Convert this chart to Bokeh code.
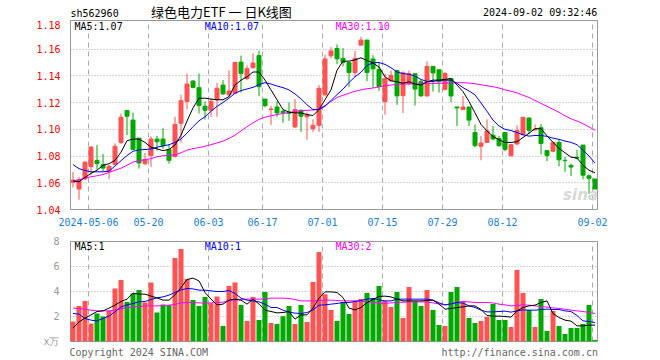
import numpy as np
from bokeh.plotting import figure
from bokeh.models import Range1d, FixedTicker, Label, ColumnDataSource
from bokeh.layouts import column
from bokeh.embed import file_html
from bokeh.resources import INLINE

# ---------------- data ----------------
tick_idx = [3, 13, 23, 32, 42, 52, 62, 72, 87]
tick_labels = ["2024-05-06", "05-20", "06-03", "06-17", "07-01", "07-15", "07-29", "08-12", "09-02"]

open_ = [1.0603, 1.0553, 1.0630, 1.0720, 1.0767, 1.0735, 1.0687, 1.0738, 1.0902, 1.1140,
         1.1069, 1.0934, 1.0743, 1.0804, 1.0927, 1.0927, 1.0849, 1.0797, 1.1045, 1.1209,
         1.1361, 1.1312, 1.1172, 1.1143, 1.1221, 1.1331, 1.1258, 1.1270, 1.1503, 1.1380,
         1.1461, 1.1552, 1.1226, 1.1148, 1.1167, 1.1135, 1.1130, 1.1018, 1.1143, 1.1093,
         1.1005, 1.1030, 1.1258, 1.1550, 1.1605, 1.1531, 1.1500, 1.1425, 1.1630, 1.1668,
         1.1526, 1.1448, 1.1208, 1.1362, 1.1440, 1.1252, 1.1342, 1.1416, 1.1356, 1.1250,
         1.1471, 1.1446, 1.1299, 1.1380, 1.1167, 1.1148, 1.1167, 1.0976, 1.0873, 1.0902,
         1.0956, 1.0932, 1.0976, 1.0802, 1.0890, 1.0960, 1.1085, 1.0995, 1.1012, 1.0841,
         1.0836, 1.0902, 1.0768, 1.0730, 1.0790, 1.0882, 1.0652, 1.0628]
high = [1.0680, 1.0645, 1.0757, 1.0873, 1.0883, 1.0817, 1.0736, 1.0895, 1.1118, 1.1140,
        1.1125, 1.0934, 1.0824, 1.0947, 1.0951, 1.1008, 1.0890, 1.1094, 1.1258, 1.1417,
        1.1368, 1.1417, 1.1209, 1.1233, 1.1345, 1.1368, 1.1442, 1.1500, 1.1552, 1.1478,
        1.1570, 1.1589, 1.1226, 1.1177, 1.1209, 1.1148, 1.1201, 1.1226, 1.1143, 1.1125,
        1.1074, 1.1331, 1.1559, 1.1615, 1.1636, 1.1608, 1.1500, 1.1587, 1.1693, 1.1668,
        1.1555, 1.1502, 1.1416, 1.1440, 1.1445, 1.1435, 1.1440, 1.1416, 1.1370, 1.1508,
        1.1471, 1.1446, 1.1430, 1.1385, 1.1167, 1.1250, 1.1167, 1.1037, 1.0951, 1.1074,
        1.1025, 1.0951, 1.0976, 1.0890, 1.1030, 1.1092, 1.1085, 1.1037, 1.1041, 1.0841,
        1.0902, 1.0926, 1.0792, 1.0743, 1.0846, 1.0882, 1.0662, 1.0628]
low = [1.0564, 1.0474, 1.0620, 1.0655, 1.0700, 1.0682, 1.0628, 1.0731, 1.0890, 1.0956,
       1.0849, 1.0706, 1.0731, 1.0719, 1.0841, 1.0853, 1.0743, 1.0787, 1.0902, 1.1148,
       1.1307, 1.1118, 1.1074, 1.1094, 1.1094, 1.1258, 1.1245, 1.1265, 1.1275, 1.1368,
       1.1454, 1.1250, 1.1165, 1.1032, 1.1094, 1.1050, 1.1064, 1.1010, 1.0981, 1.0922,
       1.0981, 1.0981, 1.1245, 1.1530, 1.1489, 1.1471, 1.1318, 1.1391, 1.1630, 1.1360,
       1.1311, 1.1287, 1.1110, 1.1360, 1.1183, 1.1122, 1.1330, 1.1178, 1.1245, 1.1245,
       1.1282, 1.1275, 1.1290, 1.1203, 1.1025, 1.1145, 1.1025, 1.0866, 1.0768, 1.0897,
       1.0922, 1.0870, 1.0836, 1.0800, 1.0885, 1.0955, 1.0963, 1.0990, 1.0811, 1.0762,
       1.0830, 1.0723, 1.0682, 1.0650, 1.0775, 1.0625, 1.0517, 1.0550]
close = [1.0620, 1.0623, 1.0755, 1.0867, 1.0743, 1.0710, 1.0724, 1.0873, 1.1091, 1.1098,
         1.0849, 1.0748, 1.0775, 1.0927, 1.0907, 1.0878, 1.0768, 1.1037, 1.1214, 1.1339,
         1.1314, 1.1179, 1.1143, 1.1209, 1.1307, 1.1265, 1.1287, 1.1500, 1.1417, 1.1454,
         1.1496, 1.1319, 1.1177, 1.1152, 1.1123, 1.1125, 1.1120, 1.1148, 1.1098, 1.1110,
         1.1030, 1.1307, 1.1527, 1.1587, 1.1528, 1.1500, 1.1425, 1.1531, 1.1668, 1.1425,
         1.1453, 1.1320, 1.1379, 1.1404, 1.1250, 1.1423, 1.1416, 1.1301, 1.1250, 1.1471,
         1.1422, 1.1356, 1.1417, 1.1250, 1.1160, 1.1167, 1.1069, 1.0878, 1.0898, 1.0988,
         1.0927, 1.0878, 1.0849, 1.0885, 1.0990, 1.1090, 1.0993, 1.1000, 1.0894, 1.0804,
         1.0902, 1.0772, 1.0766, 1.0718, 1.0785, 1.0657, 1.0633, 1.0554]
volume = [1.60, 2.85, 3.25, 1.44, 2.24, 2.00, 2.45, 4.24, 4.93, 3.17,
          3.84, 4.13, 3.12, 4.72, 2.32, 2.96, 2.93, 6.69, 7.41, 5.01,
          3.33, 2.85, 3.57, 3.07, 3.60, 1.25, 4.45, 4.72, 2.93, 1.65,
          3.57, 1.73, 3.97, 1.49, 1.41, 2.03, 2.85, 1.41, 2.93, 1.57,
          4.77, 7.17, 3.79, 2.53, 1.65, 3.17, 2.21, 3.25, 3.41, 3.89,
          3.44, 4.45, 3.25, 2.77, 3.97, 1.89, 4.37, 3.20, 2.85, 4.13,
          2.53, 1.33, 1.25, 3.97, 4.37, 3.17, 1.89, 1.49, 1.65, 1.97,
          3.01, 1.73, 1.73, 1.17, 5.73, 3.89, 2.53, 1.17, 3.41, 0.85,
          2.45, 1.25, 0.61, 1.09, 1.09, 1.41, 2.93, 0.13]

ma5 = [1.0613, 1.0608, 1.0640, 1.0670, 1.0694, 1.0731, 1.0743, 1.0768, 1.0829, 1.0915,
       1.0927, 1.0927, 1.0902, 1.0866, 1.0853, 1.0841, 1.0849, 1.0883, 1.0956, 1.1062,
       1.1160, 1.1233, 1.1233, 1.1226, 1.1221, 1.1221, 1.1245, 1.1331, 1.1368, 1.1393,
       1.1429, 1.1429, 1.1368, 1.1295, 1.1221, 1.1148, 1.1128, 1.1123, 1.1123, 1.1111,
       1.1103, 1.1148, 1.1221, 1.1295, 1.1442, 1.1510, 1.1510, 1.1520, 1.1535, 1.1515,
       1.1496, 1.1466, 1.1393, 1.1363, 1.1356, 1.1344, 1.1356, 1.1339, 1.1331, 1.1356,
       1.1368, 1.1368, 1.1373, 1.1380, 1.1331, 1.1282, 1.1209, 1.1123, 1.1037, 1.0988,
       1.0947, 1.0922, 1.0902, 1.0902, 1.0907, 1.0939, 1.0971, 1.1005, 1.1005, 1.0951,
       1.0902, 1.0858, 1.0824, 1.0792, 1.0785, 1.0731, 1.0694, 1.0675]
ma10 = [1.0736, 1.0706, 1.0692, 1.0682, 1.0682, 1.0682, 1.0687, 1.0726, 1.0765, 1.0804,
        1.0836, 1.0846, 1.0849, 1.0853, 1.0866, 1.0875, 1.0885, 1.0902, 1.0927, 1.0971,
        1.1020, 1.1064, 1.1094, 1.1135, 1.1172, 1.1201, 1.1233, 1.1270, 1.1290, 1.1302,
        1.1314, 1.1334, 1.1349, 1.1339, 1.1324, 1.1312, 1.1295, 1.1265, 1.1228, 1.1184,
        1.1148, 1.1148, 1.1172, 1.1216, 1.1260, 1.1300, 1.1351, 1.1393, 1.1427, 1.1478,
        1.1498, 1.1500, 1.1486, 1.1461, 1.1429, 1.1417, 1.1412, 1.1398, 1.1373, 1.1358,
        1.1358, 1.1366, 1.1368, 1.1368, 1.1344, 1.1312, 1.1287, 1.1258, 1.1197, 1.1135,
        1.1069, 1.1025, 1.1000, 1.0991, 1.0976, 1.0959, 1.0949, 1.0954, 1.0954, 1.0947,
        1.0934, 1.0925, 1.0912, 1.0902, 1.0885, 1.0844, 1.0800, 1.0748]
ma30 = [1.0613, 1.0623, 1.0635, 1.0645, 1.0652, 1.0662, 1.0677, 1.0694, 1.0709, 1.0731,
        1.0755, 1.0765, 1.0773, 1.0780, 1.0795, 1.0802, 1.0804, 1.0809, 1.0824, 1.0844,
        1.0856, 1.0863, 1.0873, 1.0885, 1.0898, 1.0912, 1.0932, 1.0956, 1.0988, 1.1020,
        1.1049, 1.1074, 1.1091, 1.1101, 1.1111, 1.1118, 1.1125, 1.1133, 1.1140, 1.1142,
        1.1145, 1.1152, 1.1177, 1.1209, 1.1238, 1.1255, 1.1270, 1.1285, 1.1295, 1.1304,
        1.1309, 1.1317, 1.1326, 1.1331, 1.1336, 1.1339, 1.1339, 1.1339, 1.1341, 1.1344,
        1.1344, 1.1344, 1.1346, 1.1346, 1.1349, 1.1349, 1.1346, 1.1341, 1.1334, 1.1326,
        1.1319, 1.1309, 1.1295, 1.1285, 1.1273, 1.1255, 1.1238, 1.1216, 1.1194, 1.1172,
        1.1150, 1.1128, 1.1101, 1.1079, 1.1062, 1.1042, 1.1018, 1.0993]

vma5 = [1.07, 1.57, 1.87, 2.13, 2.40, 2.45, 2.67, 2.91, 3.20, 3.39,
        3.87, 3.79, 3.79, 3.63, 3.49, 3.31, 3.31, 3.73, 4.32, 4.96,
        5.07, 4.85, 3.92, 3.39, 2.93, 2.99, 3.31, 3.39, 3.31, 2.99,
        3.39, 2.99, 2.51, 2.40, 2.29, 2.32, 2.40, 1.79, 2.13, 2.13,
        2.67, 3.47, 3.97, 3.97, 3.92, 3.52, 2.67, 2.53, 2.72, 3.12,
        3.36, 3.60, 3.63, 3.57, 3.39, 3.25, 3.25, 3.25, 3.25, 3.28,
        3.31, 2.99, 2.59, 2.64, 2.72, 2.77, 2.85, 2.85, 2.56, 2.08,
        2.03, 2.03, 2.00, 1.95, 2.45, 2.72, 2.85, 2.91, 3.12, 3.25,
        2.24, 1.92, 1.71, 1.63, 1.25, 1.25, 1.31, 1.31]
vma10 = [2.24, 2.19, 1.84, 1.71, 1.65, 1.84, 2.03, 2.37, 2.77, 2.93,
         3.04, 3.17, 3.20, 3.36, 3.49, 3.57, 3.71, 3.92, 4.13, 4.24,
         4.21, 4.11, 4.11, 4.05, 4.00, 4.00, 4.08, 3.84, 3.47, 3.31,
         3.25, 3.17, 2.99, 2.72, 2.72, 2.51, 2.35, 2.27, 2.24, 2.32,
         2.53, 2.91, 2.93, 2.99, 3.04, 3.12, 3.12, 3.20, 3.28, 3.39,
         3.44, 3.33, 3.25, 3.25, 3.39, 3.39, 3.39, 3.39, 3.39, 3.39,
         3.31, 3.09, 2.93, 3.01, 3.12, 3.07, 2.85, 2.72, 2.51, 2.37,
         2.37, 2.40, 2.43, 2.35, 2.45, 2.53, 2.51, 2.51, 2.56, 2.59,
         2.56, 2.56, 2.45, 2.40, 2.08, 1.65, 1.60, 1.52]
vma30 = [2.67, 2.64, 2.59, 2.51, 2.45, 2.45, 2.45, 2.51, 2.61, 2.72,
         2.77, 2.80, 2.85, 2.85, 2.85, 2.88, 2.91, 2.96, 3.09, 3.12,
         3.12, 3.09, 3.07, 3.09, 3.12, 3.15, 3.25, 3.31, 3.36, 3.39,
         3.39, 3.39, 3.41, 3.47, 3.47, 3.47, 3.44, 3.36, 3.25, 3.25,
         3.25, 3.28, 3.31, 3.31, 3.28, 3.25, 3.25, 3.25, 3.23, 3.17,
         3.12, 3.07, 3.04, 3.09, 3.12, 3.15, 3.17, 3.17, 3.17, 3.17,
         3.09, 3.01, 2.93, 3.01, 3.15, 3.20, 3.17, 3.12, 3.12, 3.12,
         3.09, 2.99, 2.93, 2.85, 2.88, 2.93, 2.91, 2.85, 2.80, 2.75,
         2.69, 2.64, 2.59, 2.51, 2.45, 2.40, 2.32, 2.24]

# ---------------- styling ----------------
RED = "#ff5252"
GREEN = "#00a800"
GRID = "#aaaaaa"
MONO = "DejaVu Sans Mono"
W = 660
LEFT, RIGHT = 70, 63
FRAME_W = W - LEFT - RIGHT      # 527
PX = 6.0                        # pixels per trading day
XMAX = FRAME_W / PX
OFF = 2.5 / PX                  # candle centre inside its slot

n = len(close)
xs = [i + OFF for i in range(n)]
colors = [RED if c >= o else GREEN for o, c in zip(open_, close)]

src = ColumnDataSource(dict(
    x=xs, top=[max(o, c) for o, c in zip(open_, close)],
    bottom=[min(o, c) for o, c in zip(open_, close)],
    high=high, low=low, color=colors, vol=volume,
    ma5=ma5, ma10=ma10, ma30=ma30, vma5=vma5, vma10=vma10, vma30=vma30))

xr = Range1d(0, XMAX)


def sx(px):
    return (px - LEFT) / PX


def lab(p, x, y, text, color="#000000", size="10px", font=MONO, align="left", **kw):
    p.add_layout(Label(x=x, y=y, text=text, text_color=color, text_font_size=size,
                       text_font=font, text_align=align, text_baseline="middle", **kw))


# ---------------- header strip (frame aligned with the chart frame) ----------------
HDR = 20
hdr = figure(width=W, height=HDR, output_backend="svg", toolbar_location=None,
             x_range=xr, y_range=Range1d(HDR, 0),
             x_axis_type=None, y_axis_type=None,
             min_border_left=LEFT, min_border_right=RIGHT, min_border_top=0, min_border_bottom=0)
hdr.outline_line_color = None
hdr.grid.visible = False
lab(hdr, sx(70), 13.2, "sh562960")
lab(hdr, sx(150.5), 10.5, "绿色电力ETF 一 日K线图", size="13px", font="Noto Sans CJK SC")
lab(hdr, sx(596.8), 12.4, "2024-09-02 09:32:46", align="right")

# ---------------- price panel ----------------
FT1 = 20 - HDR
PY0, PY1 = 1.04, 1.04 + 192 / 27.15 * 0.02
p1 = figure(width=W, height=FT1 + 192 + 16, output_backend="svg", toolbar_location=None,
            x_range=xr, y_range=Range1d(PY0, PY1),
            min_border_left=LEFT, min_border_right=RIGHT, min_border_top=FT1,
            min_border_bottom=16)
p1.outline_line_color = "#999999"
p1.outline_line_width = 1

p1.segment(x0="x", x1="x", y0="low", y1="high", color="color", line_width=1, source=src)
p1.vbar(x="x", width=4 / PX, top="top", bottom="bottom", fill_color="color",
        line_color="color", line_width=1, source=src)
p1.line("x", "ma30", color="#ff00ff", line_width=1, source=src)
p1.line("x", "ma10", color="#0000ff", line_width=1, source=src)
p1.line("x", "ma5", color="#000000", line_width=1, source=src)

p1.xaxis.ticker = FixedTicker(ticks=tick_idx)
p1.xaxis.major_label_overrides = {t: l for t, l in zip(tick_idx, tick_labels)}
p1.xaxis.major_label_text_color = "#1a7fd4"
p1.xaxis.major_label_text_font = MONO
p1.xaxis.major_label_text_font_size = "10px"
p1.xaxis.major_label_standoff = 2
p1.xaxis.axis_line_color = None
p1.xaxis.major_tick_line_color = None
p1.xaxis.minor_tick_line_color = None

yt = [1.04, 1.06, 1.08, 1.10, 1.12, 1.14, 1.16, 1.18]
p1.yaxis.ticker = FixedTicker(ticks=yt)
p1.yaxis.major_label_overrides = {v: f"{v:.2f}" for v in yt}
p1.yaxis.major_label_text_color = "#ff0000"
p1.yaxis.major_label_text_font = MONO
p1.yaxis.major_label_text_font_size = "10px"
p1.yaxis.major_label_standoff = 4
p1.yaxis.axis_line_color = None
p1.yaxis.major_tick_line_color = None
p1.yaxis.minor_tick_line_color = None

p1.xgrid.ticker = FixedTicker(ticks=tick_idx)
p1.xgrid.grid_line_color = GRID
p1.xgrid.grid_line_dash = "5 4"
p1.ygrid.ticker = FixedTicker(ticks=yt[1:-1])
p1.ygrid.grid_line_color = GRID
p1.ygrid.grid_line_dash = "1 2"


def py(s):
    return PY0 + (212 - s) * (PY1 - PY0) / 192


lab(p1, sx(74), py(26), "MA5:1.07")
lab(p1, sx(204.3), py(26), "MA10:1.07", color="#0000ff")
lab(p1, sx(335), py(26), "MA30:1.10", color="#ff00ff")
lab(p1, sx(580), py(197), "sina", color="#d8d8d8", size="15px", font="DejaVu Sans",
    align="center", text_font_style="bold italic")

# ---------------- volume panel ----------------
H2 = 360 - HDR - (FT1 + 192 + 16)
p2 = figure(width=W, height=H2, output_backend="svg", toolbar_location=None,
            x_range=xr, y_range=Range1d(0, 8),
            min_border_left=LEFT, min_border_right=RIGHT, min_border_top=13,
            min_border_bottom=H2 - 113)
p2.outline_line_color = "#999999"

p2.vbar(x="x", width=5 / PX, top="vol", bottom=0, fill_color="color", line_color=None, source=src)
p2.line("x", "vma30", color="#ff00ff", line_width=1, source=src)
p2.line("x", "vma10", color="#0000ff", line_width=1, source=src)
p2.line("x", "vma5", color="#000000", line_width=1, source=src)

foot_x = [sx(138.3), sx(519.2)]
p2.xaxis.ticker = FixedTicker(ticks=foot_x)
p2.xaxis.major_label_overrides = {foot_x[0]: "Copyright 2024 SINA.COM",
                                  foot_x[1]: "http://finance.sina.com.cn"}
p2.xaxis.major_label_text_color = "#666666"
p2.xaxis.major_label_text_font = MONO
p2.xaxis.major_label_text_font_size = "10px"
p2.xaxis.major_label_standoff = -1
p2.xaxis.axis_line_color = None
p2.xaxis.major_tick_line_color = None
p2.xaxis.minor_tick_line_color = None

vt = [0, 2, 4, 6, 8]
p2.yaxis.ticker = FixedTicker(ticks=vt)
p2.yaxis.major_label_overrides = {0: "x万"}
p2.yaxis.major_label_text_color = "#999999"
p2.yaxis.major_label_text_font = MONO
p2.yaxis.major_label_text_font_size = "10px"
p2.yaxis.major_label_standoff = 5
p2.yaxis.axis_line_color = None
p2.yaxis.major_tick_line_color = None
p2.yaxis.minor_tick_line_color = None

p2.xgrid.ticker = FixedTicker(ticks=tick_idx)
p2.xgrid.grid_line_color = GRID
p2.xgrid.grid_line_dash = "5 4"
p2.ygrid.ticker = FixedTicker(ticks=[2, 4, 6])
p2.ygrid.grid_line_color = GRID
p2.ygrid.grid_line_dash = "1 2"


def vy(s):
    return (341 - s) / 12.5


lab(p2, sx(74), vy(246), "MA5:1")
lab(p2, sx(204.3), vy(246), "MA10:1", color="#0000ff")
lab(p2, sx(335), vy(246), "MA30:2", color="#ff00ff")

layout = column(hdr, p1, p2, spacing=0)
open("out.html", "w").write(file_html(layout, INLINE))
